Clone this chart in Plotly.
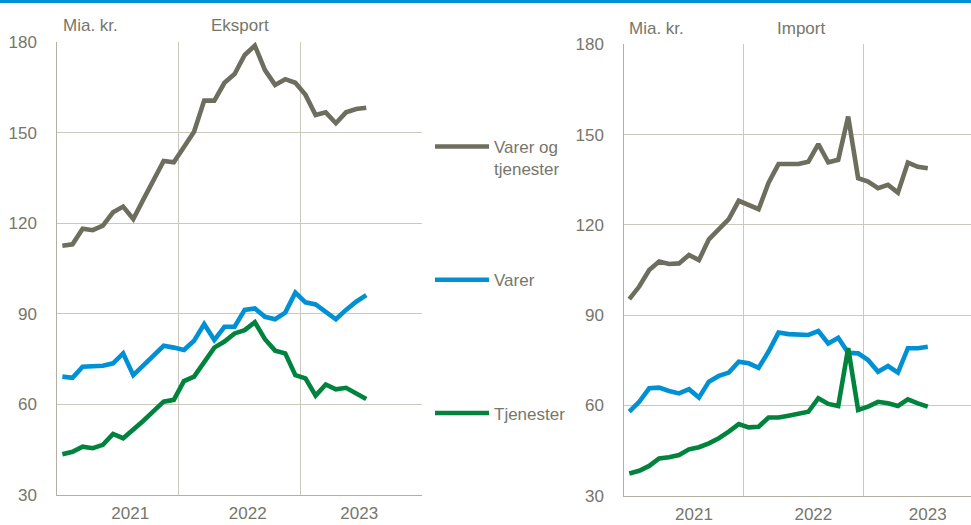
import plotly.graph_objects as go

# Monthly observations, Jan 2021 - Jul 2023 (index 0..30)
months = [f"{2021 + i // 12}-{i % 12 + 1:02d}" for i in range(31)]
idx = list(range(len(months)))

eksport_total = [112.5, 113.0, 118.2, 117.7, 119.2, 123.6, 125.5, 121.4, 127.9, 134.3,
                 140.6, 140.2, 145.3, 150.3, 160.6, 160.6, 166.5, 169.4, 175.7, 178.8,
                 170.7, 165.8, 167.7, 166.5, 162.5, 155.8, 156.7, 153.1, 156.7, 157.8, 158.2]
eksport_varer = [69.2, 68.8, 72.5, 72.5, 72.8, 73.6, 76.9, 69.7, 73.0, 76.3,
                 79.4, 78.8, 78.0, 81.1, 86.6, 81.3, 85.7, 85.7, 91.3, 91.8,
                 89.0, 88.2, 90.4, 97.0, 93.8, 93.1, 90.6, 88.2, 91.3, 94.0, 96.2]
eksport_tjen = [43.5, 44.3, 46.0, 45.5, 46.6, 50.2, 48.8, 51.5, 54.6, 57.8,
                60.9, 61.5, 67.7, 69.2, 74.1, 78.8, 80.8, 83.5, 84.6, 87.2,
                81.6, 77.8, 76.9, 69.7, 68.6, 62.9, 66.6, 65.0, 65.5, 63.7, 61.8]

import_total = [95.3, 99.5, 105.0, 107.8, 107.0, 107.2, 110.0, 108.3, 115.2, 118.3,
                121.9, 128.0, 126.6, 125.2, 134.0, 140.2, 140.2, 140.2, 141.0, 146.8,
                140.8, 141.6, 156.0, 135.5, 134.4, 132.2, 133.3, 130.7, 140.7, 139.3, 138.8]
import_varer = [57.9, 61.2, 65.7, 65.9, 64.8, 64.0, 65.4, 62.6, 67.9, 69.8,
                70.9, 74.5, 74.0, 72.5, 77.9, 84.2, 83.7, 83.6, 83.4, 84.7,
                80.6, 82.5, 77.5, 77.3, 75.1, 71.2, 73.1, 70.9, 79.0, 79.0, 79.5]
import_tjen = [37.4, 38.3, 39.9, 42.4, 42.8, 43.5, 45.4, 46.1, 47.4, 49.1,
               51.3, 53.8, 52.7, 52.9, 56.0, 56.0, 56.6, 57.1, 57.9, 62.4,
               60.5, 59.8, 79.0, 58.5, 59.6, 61.2, 60.7, 59.8, 62.0, 60.7, 59.6]

series_names = ["Varer og<br>tjenester", "Varer<br> ", "Tjenester<br> "]
colors = ["#6e6e5e", "#0091d4", "#00843d"]

year_labels = ["2021", "2022", "2023"]
year_pos_left = [6.7, 18.3, 29.3]
year_pos_right = [6.5, 18.5, 30.0]
year_bounds = [11.5, 23.5]
y_ticks = [30, 60, 90, 120, 150, 180]

TXT = "#77766a"
GRID = "#cbc9bc"
AXL = "#b2b0a2"
FONT = "Liberation Sans, Arial, sans-serif"
FS = 17

fig = go.Figure()

for k, (vals, name) in enumerate(zip([eksport_total, eksport_varer, eksport_tjen], series_names)):
    fig.add_trace(go.Scatter(x=idx, y=vals, mode="lines", name=name, customdata=months,
                             line=dict(color=colors[k], width=4.6), xaxis="x", yaxis="y",
                             legendgroup=f"g{k}", showlegend=True))
for k, (vals, name) in enumerate(zip([import_total, import_varer, import_tjen], series_names)):
    fig.add_trace(go.Scatter(x=idx, y=vals, mode="lines", name=name, customdata=months,
                             line=dict(color=colors[k], width=4.6), xaxis="x2", yaxis="y2",
                             legendgroup=f"g{k}", showlegend=False))

W, H = 971, 525

def xaxis(domain, rng, tickpos):
    return dict(domain=domain, range=rng, tickmode="array", tickvals=tickpos, ticktext=year_labels,
                showgrid=False, zeroline=False, ticks="", showline=True, linecolor=AXL, linewidth=1,
                automargin=False,
                tickfont=dict(size=FS, color=TXT, family=FONT), ticklabelstandoff=3,
                minor=dict(tickmode="array", tickvals=year_bounds, showgrid=True,
                           gridcolor=GRID, gridwidth=1.3, ticks=""))

def yaxis(domain, anchor, gridvals):
    return dict(domain=domain, range=[30, 180], anchor=anchor, tickmode="array", tickvals=y_ticks,
                showgrid=False, zeroline=False, ticks="", showline=True, linecolor=AXL, linewidth=1,
                automargin=False,
                tickfont=dict(size=FS, color=TXT, family=FONT), ticklabelstandoff=16,
                minor=dict(tickmode="array", tickvals=gridvals, showgrid=True,
                           gridcolor=GRID, gridwidth=1.3, ticks=""))

left_x0 = 57.3 / W
left_x1 = (57.3 + 36 * 10.13) / W
right_x0 = 624.3 / W
right_end = (W - 624.3) / 9.95 - 0.5

fig.update_layout(
    width=W, height=H,
    margin=dict(l=0, r=0, t=0, b=0),
    paper_bgcolor="white", plot_bgcolor="white",
    font=dict(family=FONT, color=TXT, size=FS),
    xaxis=xaxis([left_x0, left_x1], [-0.5, 35.5], year_pos_left) | dict(anchor="y"),
    yaxis=yaxis([(H - 495) / H, (H - 42) / H], "x", [60, 90, 120, 150]),
    xaxis2=xaxis([right_x0, 1.0], [-0.5, right_end], year_pos_right) | dict(anchor="y2"),
    yaxis2=yaxis([(H - 495.7) / H, (H - 44.3) / H], "x2", [60, 90, 120, 150, 180]),
    legend=dict(x=430 / W, xanchor="left", y=1 - 129 / H, yanchor="top",
                bgcolor="rgba(0,0,0,0)", font=dict(size=FS, color=TXT, family=FONT),
                traceorder="grouped", tracegroupgap=86, valign="top", itemwidth=54),
    shapes=[dict(type="line", xref="paper", yref="paper", x0=0, x1=1, y0=1 - 1.5 / H, y1=1 - 1.5 / H,
                 line=dict(color="#0091d4", width=3))],
    annotations=[
        dict(text="Mia. kr.", xref="paper", yref="paper", x=60.7 / W, y=1 - 25 / H,
             xanchor="left", yanchor="middle", showarrow=False, font=dict(size=FS, color=TXT)),
        dict(text="Eksport", xref="paper", yref="paper", x=240 / W, y=1 - 25 / H,
             xanchor="center", yanchor="middle", showarrow=False, font=dict(size=FS, color=TXT)),
        dict(text="Mia. kr.", xref="paper", yref="paper", x=626.7 / W, y=1 - 28 / H,
             xanchor="left", yanchor="middle", showarrow=False, font=dict(size=FS, color=TXT)),
        dict(text="Import", xref="paper", yref="paper", x=801 / W, y=1 - 28 / H,
             xanchor="center", yanchor="middle", showarrow=False, font=dict(size=FS, color=TXT)),
    ],
)

fig.write_html("out.html", config={"displayModeBar": False},
               post_script="document.body.style.margin='0';")
